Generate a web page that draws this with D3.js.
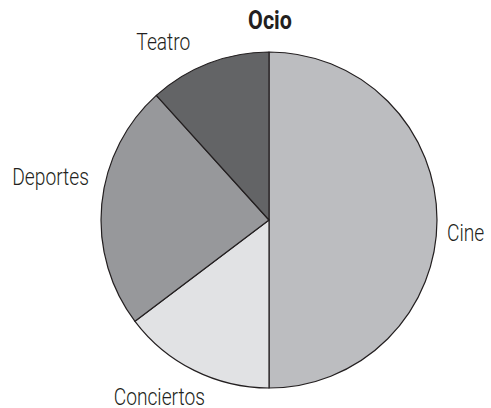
<!DOCTYPE html>
<html>
<head>
<meta charset="utf-8">
<script src="https://cdn.jsdelivr.net/npm/d3@7"></script>
<style>
  body { margin: 0; background: #fff; }
  text { font-family: Roboto, "Liberation Sans", sans-serif; fill: #231f20; }
  .title { font-weight: bold; font-size: 25px; }
  .lbl { font-size: 24px; font-weight: 300; }
</style>
</head>
<body>
<div id="chart"></div>
<script>
var width = 491, height = 408;

// data
var categories = ["Cine", "Conciertos", "Deportes", "Teatro"];
var values = [50, 14.7, 23.6, 11.7];
var colors = ["#bcbdc0", "#e1e2e4", "#97989b", "#636466"];

// label nudges (layout only)
var labelNudge = [[0, 13], [-10, 5], [-3, -25], [-32, 1]];

var cx = 269, cy = 220, radius = 168;
var squeeze = 0.8;

var svg = d3.select("#chart").append("svg")
    .attr("width", width)
    .attr("height", height);

svg.append("text")
  .attr("class", "title")
  .attr("text-anchor", "middle")
  .attr("transform", "translate(270,29) scale(0.86,1)")
  .text("Ocio");

var pie = d3.pie().sort(null).value(function(d) { return d.v; });
var arc = d3.arc().innerRadius(0).outerRadius(radius);

var data = categories.map(function(c, i) { return {name: c, v: values[i], i: i}; });
var arcs = pie(data);

var g = svg.append("g").attr("transform", "translate(" + cx + "," + cy + ")");

g.selectAll("path")
  .data(arcs).enter()
  .append("path")
  .attr("d", arc)
  .attr("fill", function(d) { return colors[d.data.i]; })
  .attr("stroke", "#231f20")
  .attr("stroke-width", 1.2)
  .attr("stroke-linejoin", "round");

var lbl = g.selectAll("text.lbl")
  .data(arcs).enter()
  .append("text")
  .attr("class", "lbl")
  .attr("text-anchor", "middle")
  .attr("dominant-baseline", "central")
  .text(function(d) { return d.data.name; });

lbl.each(function(d) {
  var bb = this.getBBox();
  var w = bb.width * squeeze;
  var a = (d.startAngle + d.endAngle) / 2;
  var s = Math.sin(a), c = -Math.cos(a);
  var px = s * (radius + 10), py = c * (radius + 10);
  var x = px + s * w / 2 + labelNudge[d.data.i][0];
  var y = py + c * bb.height / 2 + labelNudge[d.data.i][1];
  d3.select(this).attr("transform", "translate(" + x + "," + y + ") scale(" + squeeze + ",1)");
});
</script>
</body>
</html>
